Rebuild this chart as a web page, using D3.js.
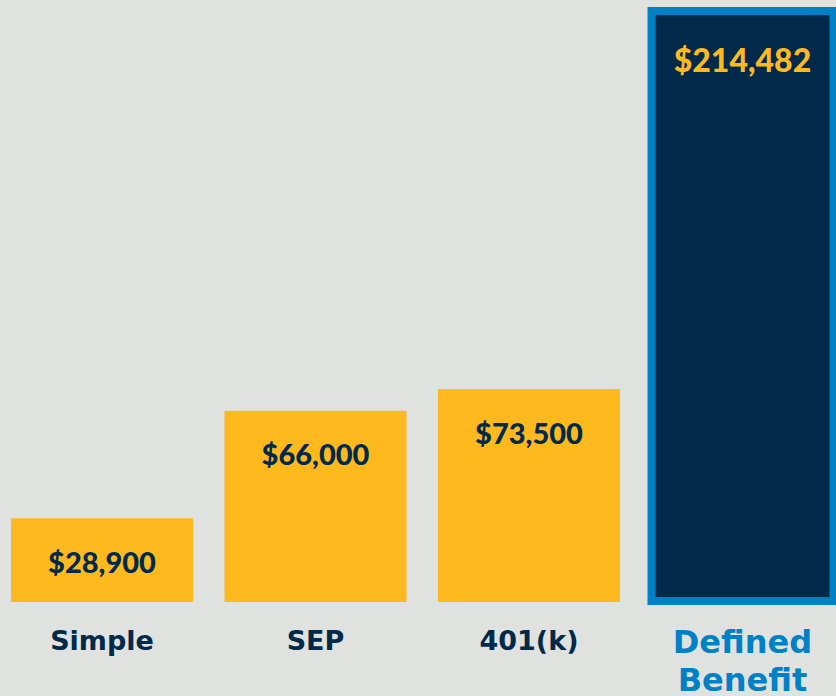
<!DOCTYPE html>
<html>
<head>
  <title>Retirement plan contribution limits</title>
  <script src="https://d3js.org/d3.v7.min.js"></script>
  <style>
    html, body { margin: 0; padding: 0; background: #e0e2df; }
  </style>
</head>
<body>
  <svg width="836" height="696"></svg>

  <script>
    // data
    const plans = ["Simple", "SEP", "401(k)", "Defined Benefit"];
    const limits = [28900, 66000, 73500, 214482];
    const highlight = "Defined Benefit";

    const width = 836, height = 696;
    const svg = d3.select("svg")
      .attr("width", width)
      .attr("height", height);

    svg.append("rect")
      .attr("width", width)
      .attr("height", height)
      .attr("fill", "#e0e2df");

    // x band for each plan, bars sit on a common baseline
    const x = d3.scaleBand()
      .domain(plans)
      .range([11, 833.5])
      .paddingInner(0.1475)
      .paddingOuter(0);

    // infographic is clipped at the top, so the big bar is clamped
    const y = d3.scaleLinear()
      .domain([0, 204000])
      .range([602, 11])
      .clamp(true);

    const data = plans.map((p, i) => ({ plan: p, value: limits[i] }));
    const fmt = d3.format("$,");

    // bars
    svg.selectAll(".bar")
      .data(data)
      .enter()
      .append("rect")
      .attr("class", "bar")
      .attr("x", d => x(d.plan))
      .attr("y", d => y(d.value))
      .attr("width", x.bandwidth())
      .attr("height", d => (d.plan === highlight ? 601 : 602) - y(d.value))
      .attr("fill", d => d.plan === highlight ? "#012a4a" : "#feb91f")
      .attr("stroke", d => d.plan === highlight ? "#0080c6" : "none")
      .attr("stroke-width", 8);

    // value labels inside the bars
    svg.selectAll(".value")
      .data(data)
      .enter()
      .append("text")
      .attr("class", "value")
      .attr("x", d => x(d.plan) + x.bandwidth() / 2)
      .attr("y", d => y(d.value) + (d.plan === highlight ? 49 : 44))
      .attr("dy", "0.36em")
      .attr("text-anchor", "middle")
      .style("font-family", "Lato, 'Open Sans', sans-serif")
      .style("font-weight", 900)
      .style("font-size", d => d.plan === highlight ? "32px" : "29px")
      .style("fill", d => d.plan === highlight ? "#feb91f" : "#012a4a")
      .text(d => fmt(d.value));

    // category labels under the bars
    const cat = svg.selectAll(".cat")
      .data(data)
      .enter()
      .append("text")
      .attr("class", "cat")
      .attr("x", d => x(d.plan) + x.bandwidth() / 2)
      .attr("y", d => d.plan === highlight ? 653 : 650)
      .attr("text-anchor", "middle")
      .style("font-family", "'DejaVu Sans', sans-serif")
      .style("font-weight", "bold")
      .style("font-size", d => d.plan === highlight ? "32px" : "27px")
      .style("fill", d => d.plan === highlight ? "#0080c6" : "#012a4a");

    cat.each(function(d) {
      const words = d.plan === highlight ? d.plan.split(" ") : [d.plan];
      const t = d3.select(this);
      words.forEach((w, i) => {
        t.append("tspan")
          .attr("x", x(d.plan) + x.bandwidth() / 2)
          .attr("dy", i === 0 ? 0 : 38)
          .text(w);
      });
    });
  </script>
</body>
</html>
